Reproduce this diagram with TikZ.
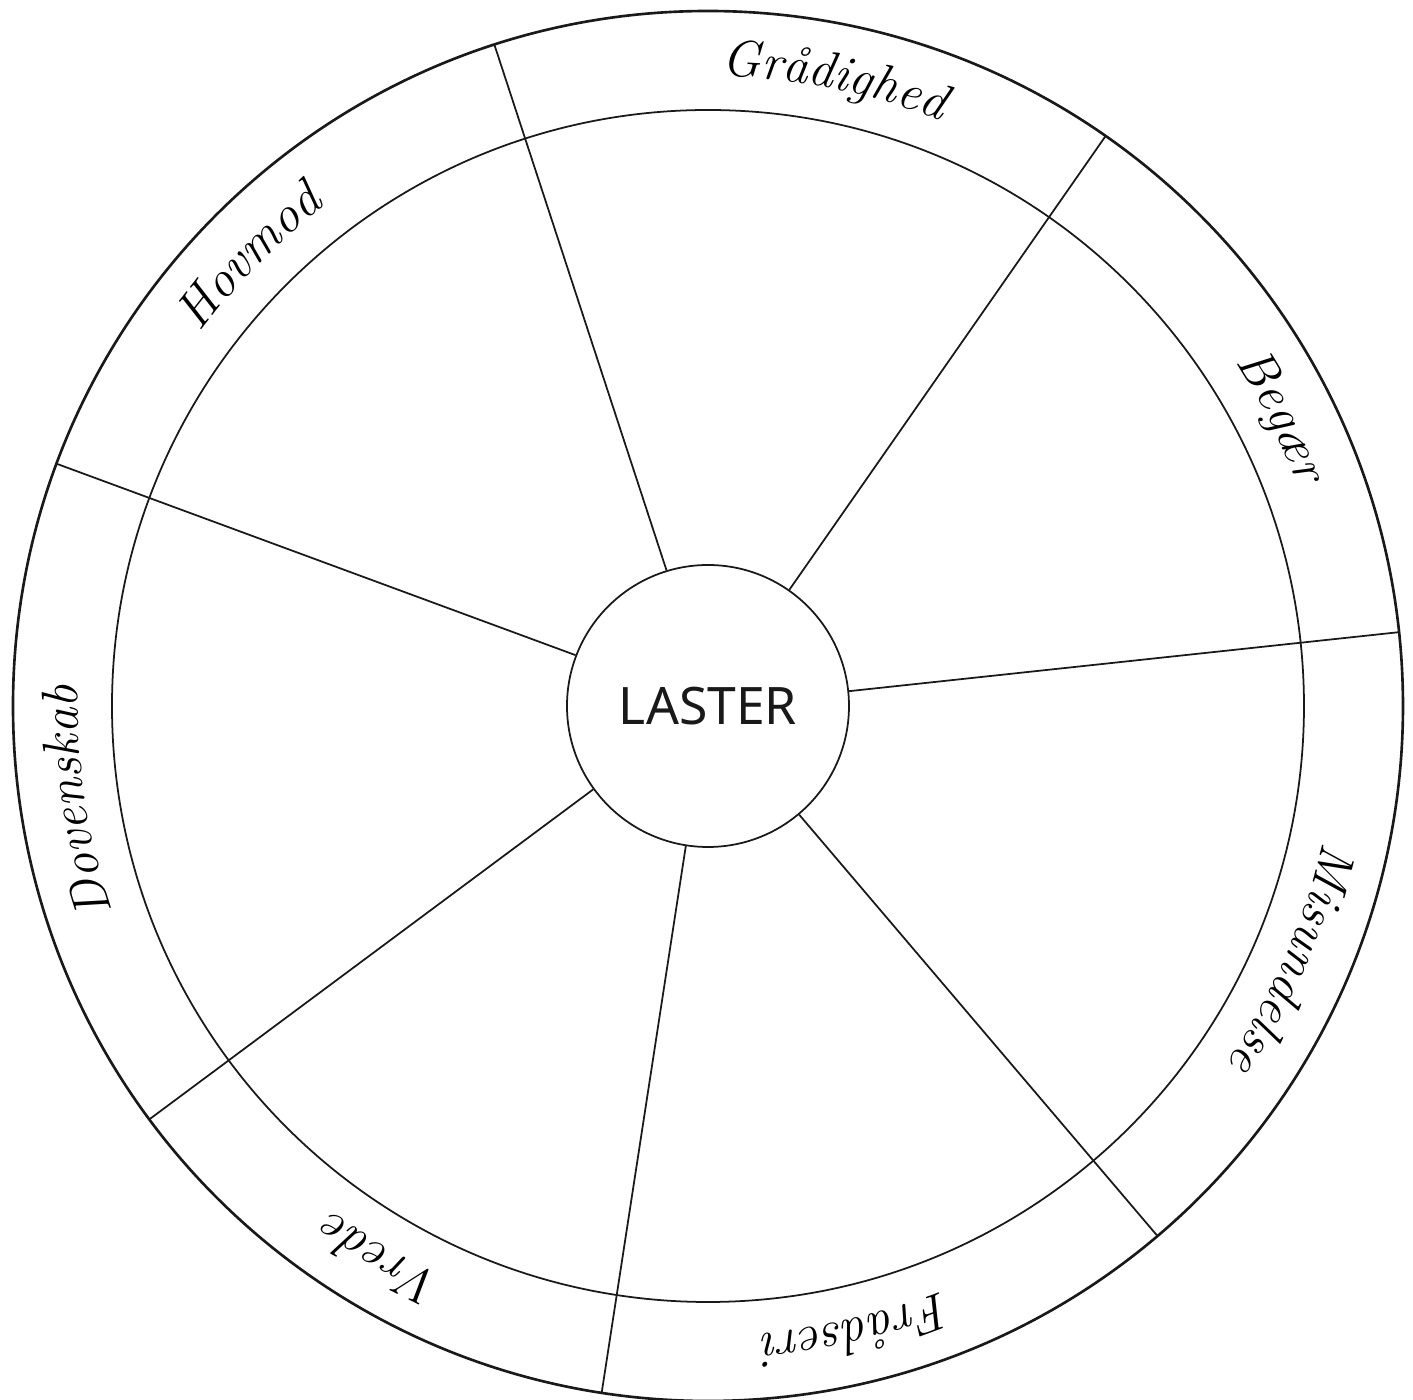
\documentclass[tikz,border=0pt]{standalone}
\usepackage{fontspec}
\newfontfamily\hubfont{Noto Sans}
\usetikzlibrary{decorations.text}
\newcommand{\vicefont}{\itshape\fontsize{14.6}{17}\selectfont}
\tikzset{
  outer rim/.style={line width=0.75pt,black!90},
  inner rim/.style={line width=0.5pt,black!90},
  spoke line/.style={line width=0.5pt,black!90},
  hub circle/.style={circle,draw,line width=0.5pt,black!90,minimum size=2.82cm,inner sep=0pt,font=\hubfont\fontsize{14.7}{17}\selectfont},
  vice label/.style={decorate,decoration={text along path,text align=center,text format delimiters={|}{|}}},
}

\begin{document}
\begin{tikzpicture}
\useasboundingbox (-7.08,-6.94) rectangle (7.05,7.06);
\draw[outer rim] (0,0) circle[radius=6.95];
\draw[inner rim] (0,0) circle[radius=5.96];
\node[hub circle] (hub) at (0,0) {LASTER};
\foreach \a in {107.9,55.1,6.1,310.3,261.2,216.5,159.6} {
  \draw[spoke line] (hub.\a) -- (\a:6.95);
}
% names of the vices, read clockwise round the ring
\foreach \a/\lbl in {78.6/Grådighed, 26.8/Begær, -23.4/Misundelse, -76.6/Frådseri, -120.6/Vrede, 188.6/Dovenskab, 135.6/Hovmod} {
  \path[vice label,decoration={text/.expanded={|\noexpand\vicefont|\lbl}}] (\a+45:6.30) arc[start angle=\a+45,delta angle=-90,radius=6.30];
}
\end{tikzpicture}
\end{document}
